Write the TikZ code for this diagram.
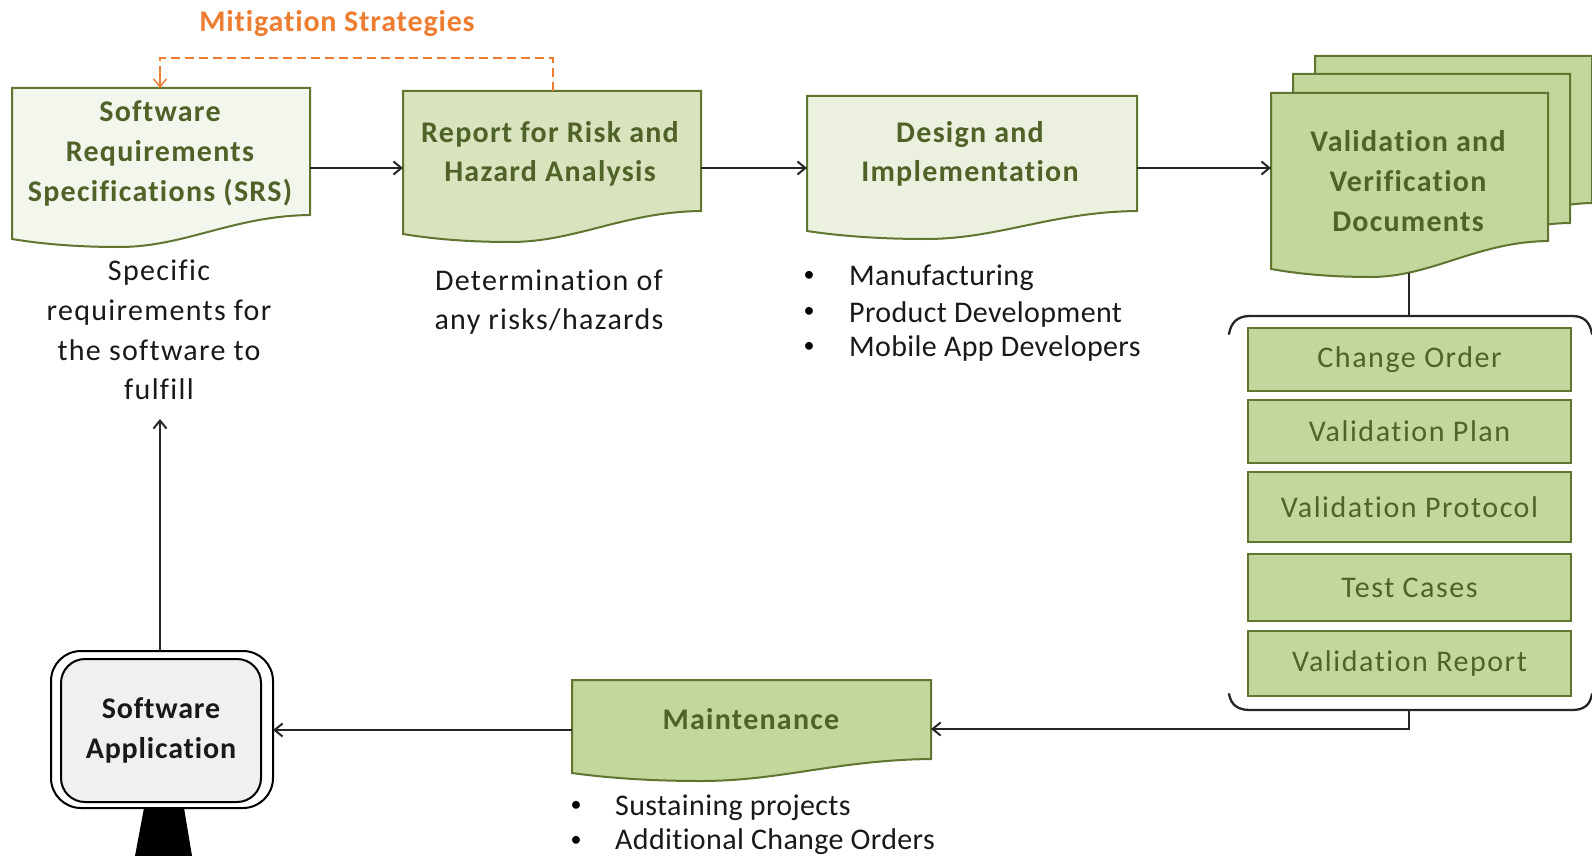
\documentclass[tikz,border=0pt]{standalone}
\usepackage{fontspec}
\setmainfont{Carlito}
\newfontfamily\titlefont[LetterSpace=4.2,Ligatures=NoCommon]{Carlito}
\newfontfamily\notefont[LetterSpace=4.4,Ligatures=NoCommon]{Carlito}
\newfontfamily\listfont[LetterSpace=1.2,Ligatures=NoCommon]{Carlito}
\newfontfamily\itemfont[LetterSpace=5.2,Ligatures=NoCommon]{Carlito}
\newfontfamily\strongfont[LetterSpace=2.8,Ligatures=NoCommon]{Carlito}
\usetikzlibrary{arrows.meta,calc}
\definecolor{edgeg}{HTML}{5F7530}
\definecolor{textg}{HTML}{4F6228}
\definecolor{fillvv}{HTML}{C3D69B}
\definecolor{fillsrs}{HTML}{F3F6EC}
\definecolor{fillrisk}{HTML}{D9E3BE}
\definecolor{filldes}{HTML}{EBF1DE}
\definecolor{orng}{HTML}{ED7D31}
\definecolor{linek}{HTML}{262626}
\newcommand{\docshape}[6]{%
 % fill, x1, x2, top, y right, y left
 \pgfmathsetmacro{\docw}{#3-#2}
 \pgfmathsetmacro{\docm}{#6+8}
 \draw[docline,fill=#1] (#2,#4) -- (#3,#4) -- (#3,#5)
  .. controls ({#2+0.74*\docw},{#5+1}) and ({#2+0.58*\docw},\docm) .. ({#2+0.36*\docw},\docm)
  .. controls ({#2+0.22*\docw},\docm) and ({#2+0.10*\docw},{#6+5}) .. (#2,#6) -- cycle;}
\tikzset{
 docline/.style={draw=edgeg,line width=2pt,line join=miter},
 anchorbox/.style={draw=none,fill=none,inner sep=0pt,outer sep=0pt,anchor=north west},
 title/.style={font=\fontsize{30}{39.6}\selectfont\titlefont\bfseries,text=textg,align=center,inner sep=0pt},
 plain/.style={font=\fontsize{30}{39.6}\selectfont\notefont,text=black!90,align=center,inner sep=0pt},
 listitem/.style={font=\fontsize{30}{34}\selectfont\listfont,text=black!90,anchor=west,inner sep=0pt},
 bulletmark/.style={font=\fontsize{22}{24}\selectfont,text=black,anchor=center,inner sep=0pt},
 itembox/.style={draw=edgeg,line width=2pt,fill=fillvv,inner sep=0pt,outer sep=0pt,anchor=north west,
   font=\fontsize{30}{34}\selectfont\itemfont,text=textg},
 conn/.style={draw=linek,line width=2.3pt},
 arr/.style={conn,-{Straight Barb[length=8pt,width=13pt,line width=2pt]}},
}
\begin{document}
\begin{tikzpicture}[x=1pt,y=-1pt]
\useasboundingbox (0,0) rectangle (1592,856);
% invisible frames of the documents (centres lie on the connector height)
\node[anchorbox,minimum width=298pt,minimum height=160pt] (srs) at (12,88) {};
\node[anchorbox,minimum width=298pt,minimum height=154pt] (risk) at (403,91) {};
\node[anchorbox,minimum width=330pt,minimum height=144pt] (design) at (807,96) {};
\node[anchorbox,minimum width=277pt,minimum height=150pt] (vv) at (1271,93) {};
\node[anchorbox,minimum width=359pt,minimum height=100pt] (maint) at (572,680) {};
\docshape{fillsrs}{12}{310}{88}{215}{239}
\docshape{fillrisk}{403}{701}{91}{211}{234}
\docshape{filldes}{807}{1137}{96}{211}{231}
\docshape{fillvv}{1315}{1592}{56}{203}{240}
\docshape{fillvv}{1293}{1570}{74}{223}{250}
\docshape{fillvv}{1271}{1548}{93}{241}{269}
\docshape{fillvv}{572}{931}{680}{759}{773}
% document titles
\node[title] (t1) at (160,153.5) {Software\\Requirements\\Specifications (SRS)};
\node[title] (t2) at (550,154) {Report for Risk and\\Hazard Analysis};
\node[title] (t3) at (970,154) {Design and\\Implementation};
\node[title] (t4) at (1408,181) {Validation and\\Verification\\Documents};
\node[title] (t5) at (751,719) {Maintenance};
\node[font=\fontsize{30}{34}\selectfont\strongfont\bfseries,text=orng,inner sep=0pt] (mit) at (337,24) {Mitigation Strategies};
% notes
\node[plain] (n1) at (159,330) {Specific\\requirements for\\the software to\\fulfill};
\node[plain] (n2) at (549,302) {Determination of\\any risks/hazards};
\node[bulletmark] (b1) at (809,276) {•};
\node[listitem] (l1) at (849,277.5) {Manufacturing};
\node[bulletmark] (b2) at (809,312) {•};
\node[listitem] (l2) at (849,314) {Product Development};
\node[bulletmark] (b3) at (809,347) {•};
\node[listitem] (l3) at (849,348.5) {Mobile App Developers};
\node[bulletmark] (b4) at (576,806) {•};
\node[listitem] (l4) at (615,807.5) {Sustaining projects};
\node[bulletmark] (b5) at (576,841) {•};
\node[listitem] (l5) at (615,842) {Additional Change Orders};
% item boxes
\node[itembox,minimum width=323pt,minimum height=63pt] (i1) at (1248,328) {Change Order};
\node[itembox,minimum width=323pt,minimum height=63pt] (i2) at (1248,400) {Validation Plan};
\node[itembox,minimum width=323pt,minimum height=70pt] (i3) at (1248,472) {Validation Protocol};
\node[itembox,minimum width=323pt,minimum height=67pt] (i4) at (1248,554) {Test Cases};
\node[itembox,minimum width=323pt,minimum height=65pt] (i5) at (1248,631) {Validation Report};
% brace-like bracket
\coordinate (brT) at (1409,316);
\coordinate (brB) at (1409,710);
\draw[conn,line cap=round] (1229,334) .. controls (1231,322) and (1238,316) .. (1250,316) -- (1572,316)
  .. controls (1584,316) and (1590,322) .. (1592,334);
\draw[conn,line cap=round] (1229,694) .. controls (1231,705) and (1238,710) .. (1250,710) -- (1572,710)
  .. controls (1584,710) and (1590,705) .. (1592,694);
% software application
\node[draw=black,line width=2pt,rounded corners=30pt,minimum width=222pt,minimum height=157pt,inner sep=0pt,outer sep=0pt,anchor=north west] (appo) at (51,651) {};
\node[draw=black,line width=2pt,rounded corners=24pt,fill=black!6,minimum width=200pt,minimum height=143pt,inner sep=0pt,outer sep=0pt,anchor=north west,
  font=\fontsize{30}{39.6}\selectfont\strongfont\bfseries,text=black!90,align=center] (app) at (61,659) {Software\\Application};
\fill[black] (144,808) -- (184,808) -- (192,856) -- (135,856) -- cycle;
% connectors
\draw[arr] (srs.east) -- (risk.west);
\draw[arr] (risk.east) -- (design.west);
\draw[arr] (design.east) -- (vv.west);
\draw[conn] (1409,273) -- (brT);
\draw[arr] (brB) -- (1409,729) -- (maint.east |- 0,729);
\draw[arr] (maint.west |- 0,730) -- (appo.east |- 0,730);
\draw[arr] (160,651) -- (160,419);
\draw[orng,line width=2pt,dash pattern=on 9pt off 5pt] (553,91) -- (553,58) -- (160,58) -- (160,70);
\draw[orng,line width=1.6pt,-{Straight Barb[length=8pt,width=13pt,line width=1.5pt]}] (160,70) -- (srs.north -| 160,0);
\end{tikzpicture}
\end{document}
